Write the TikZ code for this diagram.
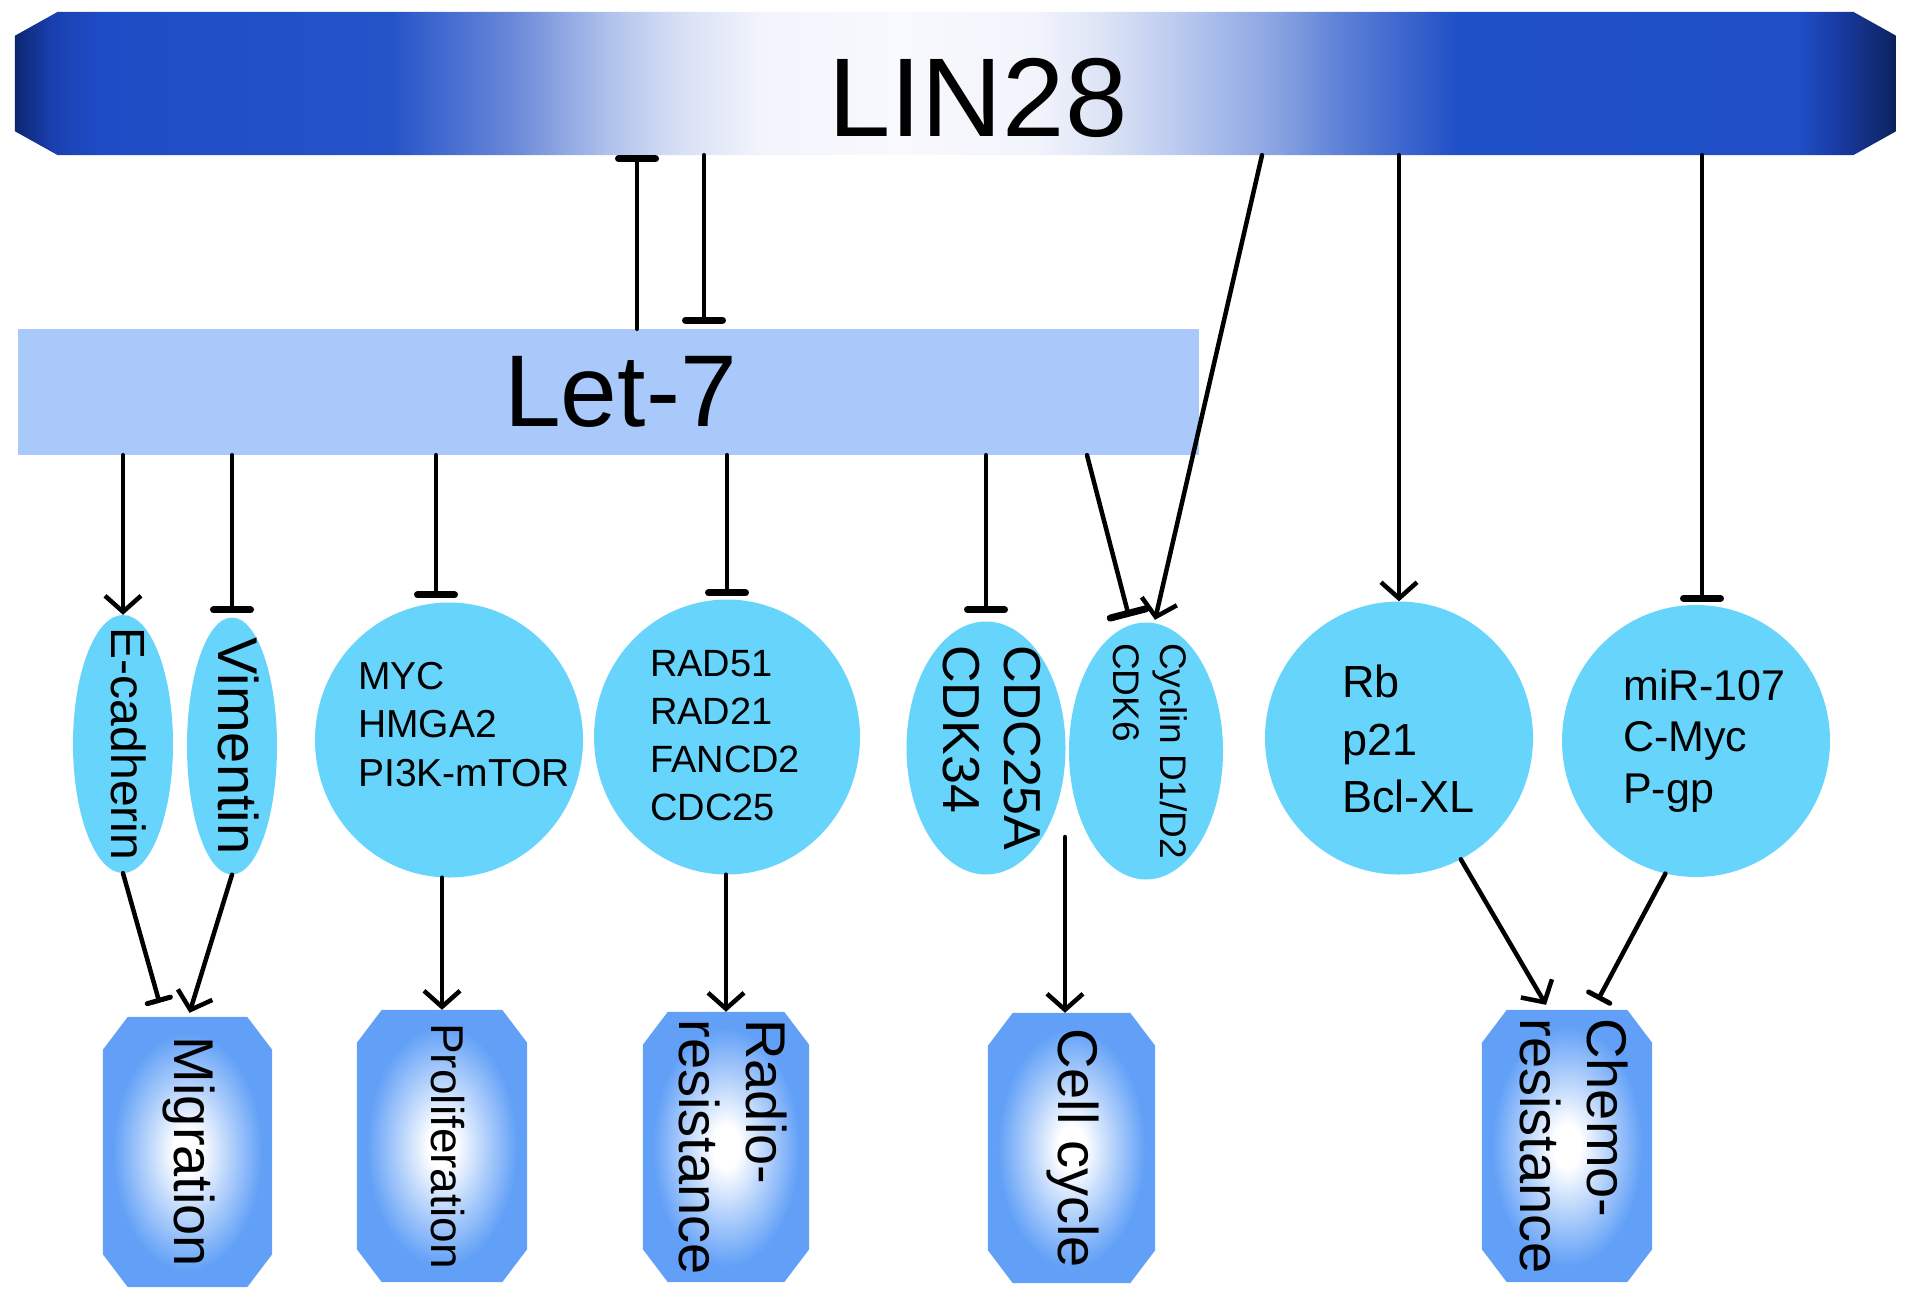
\documentclass[tikz,border=0pt]{standalone}
\usepackage{fontspec}
\setmainfont{Liberation Sans}
\usetikzlibrary{arrows.meta,shapes.geometric,backgrounds}

% colours of the LIN28 bar, left to right
\definecolor{linA}{HTML}{0B2670}
\definecolor{linB}{HTML}{1A40B0}
\definecolor{linC}{HTML}{1D4CC6}
\definecolor{linD}{HTML}{2553C8}
\definecolor{linE}{HTML}{6A88D8}
\definecolor{linF}{HTML}{B0C2EC}
\definecolor{linG}{HTML}{D8E0F5}
\definecolor{linH}{HTML}{F2F4FC}
\definecolor{linI}{HTML}{F8F9FE}
\definecolor{linJ}{HTML}{E0E6F6}
\definecolor{linK}{HTML}{C0CEF0}
\definecolor{linL}{HTML}{8AA4E2}
\definecolor{linM}{HTML}{6084D8}
\definecolor{linN}{HTML}{3A62CC}
\definecolor{linO}{HTML}{2050C8}
\definecolor{linP}{HTML}{1F4EC6}
\definecolor{linQ}{HTML}{1A3DA8}
\definecolor{linR}{HTML}{0E2668}
\definecolor{linS}{HTML}{0A1E55}
% other fills
\definecolor{letblue}{HTML}{A8C9FA}
\definecolor{cellcyan}{HTML}{67D4FB}
\definecolor{boxblue}{HTML}{62A0F7}
\definecolor{boxpale}{HTML}{B8D4FB}

\pgfdeclarehorizontalshading{linbar}{100bp}{color(0bp)=(linA); color(25bp)=(linA);
  color(26bp)=(linB); color(27.3bp)=(linC); color(35bp)=(linD); color(38.2bp)=(linE);
  color(40.8bp)=(linF); color(42.7bp)=(linG); color(44.8bp)=(linH); color(48.5bp)=(linI);
  color(52.1bp)=(linH); color(53.7bp)=(linJ); color(55.6bp)=(linK); color(58.5bp)=(linL);
  color(60.1bp)=(linM); color(62.1bp)=(linN); color(63.3bp)=(linO); color(72.4bp)=(linP);
  color(73.3bp)=(linQ); color(74.8bp)=(linR); color(75bp)=(linS); color(100bp)=(linS)}
\pgfdeclareradialshading{boxglow}{\pgfpoint{0bp}{0bp}}{color(0bp)=(white); color(4bp)=(white);
  color(12bp)=(boxpale); color(22bp)=(boxblue); color(50bp)=(boxblue)}

\newcommand{\vlabel}[1]{\rotatebox{-90}{\begin{tabular}{@{}l@{}}#1\end{tabular}}}
% node, x cut, y cut, shading
\newcommand{\chamferfill}[4]{%
  \shade[shading=#4] ([xshift=#2]#1.north west) -- ([xshift=-#2]#1.north east)
    -- ([yshift=-#3]#1.north east) -- ([yshift=#3]#1.south east)
    -- ([xshift=-#2]#1.south east) -- ([xshift=#2]#1.south west)
    -- ([yshift=#3]#1.south west) -- ([yshift=-#3]#1.north west) -- cycle;}

\tikzset{
  gene/.style={ellipse, fill=cellcyan, inner sep=0pt},
  genetext/.style={anchor=north west, align=left, inner sep=0pt},
  outcome/.style={rectangle, inner sep=0pt, font=\fontsize{56}{67}\selectfont},
  act/.style={line width=4.5pt, -{Straight Barb[length=16pt,width=36pt,line width=4.5pt]}},
  inh/.style={line width=4.5pt, -{Bar[width=37pt,line width=7pt,round]}},
  inhsmall/.style={line width=4.5pt, -{Bar[width=24pt,line width=5pt,round]}},
}

\begin{document}
\begin{tikzpicture}[x=1pt, y=-1pt, line cap=round, line join=round]
\useasboundingbox (0,0) rectangle (1913,1300);

% the two bars
\node[minimum width=1881pt, minimum height=143pt, inner sep=0pt] (lin28) at (955.5,83.5) {};
\node[anchor=base, inner sep=0pt, font=\fontsize{112}{134}\selectfont] (lin28-txt) at (978,137) {LIN28};
\node[fill=letblue, minimum width=1181pt, minimum height=126pt, inner sep=0pt,
  font=\fontsize{102}{122}\selectfont] (let7) at (608.5,392) {\hspace*{24pt}Let-7};

% targets
\node[gene, minimum width=100pt, minimum height=258pt,
  label={[font=\fontsize{48}{58}\selectfont]center:\vlabel{E-cadherin}}] (ecad) at (123,744) {};
\node[gene, minimum width=90pt, minimum height=257pt,
  label={[font=\fontsize{56}{67}\selectfont]center:\vlabel{Vimentin}}] (vim) at (232,746) {};
\node[gene, minimum width=268pt, minimum height=275pt] (myc) at (449,740) {};
\node[genetext, font=\fontsize{39}{48.5}\selectfont] (myc-txt) at (358,662) {MYC\\HMGA2\\PI3K-mTOR};
\node[gene, minimum width=266pt, minimum height=275pt] (rad) at (727,737) {};
\node[genetext, font=\fontsize{38}{48}\selectfont] (rad-txt) at (650,650) {RAD51\\RAD21\\FANCD2\\CDC25};
\node[gene, minimum width=159pt, minimum height=253pt,
  label={[font=\fontsize{52}{61}\selectfont]center:\vlabel{CDC25A\\CDK34}}] (cdc) at (986,748) {};
\node[gene, minimum width=154pt, minimum height=257pt,
  label={[font=\fontsize{37}{47}\selectfont]center:\vlabel{Cyclin D1/D2\\CDK6}}] (cyc) at (1146,751) {};
\node[gene, minimum width=268pt, minimum height=273pt] (rb) at (1399,738) {};
\node[genetext, font=\fontsize{45}{57.5}\selectfont] (rb-txt) at (1342,665) {Rb\\p21\\Bcl-XL};
\node[gene, minimum width=268pt, minimum height=272pt] (mir) at (1696,741) {};
\node[genetext, font=\fontsize{43}{51.5}\selectfont] (mir-txt) at (1623,669) {miR-107\\C-Myc\\P-gp};

% outcomes
\node[outcome, minimum width=169pt, minimum height=270pt] (mig) at (187.5,1152) {\vlabel{Migration}};
\node[outcome, minimum width=170pt, minimum height=272pt, font=\fontsize{46}{55}\selectfont] (pro) at (442,1146) {\vlabel{Proliferation}};
\node[outcome, minimum width=166pt, minimum height=270pt] (radio) at (726,1147) {\vlabel{Radio-\\resistance}};
\node[outcome, minimum width=167pt, minimum height=270pt] (cell) at (1071.5,1148) {\vlabel{Cell cycle}};
\node[outcome, minimum width=170pt, minimum height=272pt] (chemo) at (1567,1146) {\vlabel{Chemo-\\resistance}};

% shaded, cut-corner fills behind the bar and the outcomes
\begin{scope}[on background layer]
  \chamferfill{lin28}{43pt}{24pt}{linbar}
  \foreach \b in {mig,pro,radio,cell,chemo} {\chamferfill{\b}{25pt}{33pt}{boxglow}}
\end{scope}

% LIN28 and Let-7
\draw[inh] (let7.north -| 637,0) -- (lin28.south -| 637,0);
\draw[inh, shorten >=5pt] (lin28.south -| 704,0) -- (let7.north -| 704,0);

% LIN28 onto its targets
\draw[act] (lin28.south -| 1262,0) -- ([xshift=9pt,yshift=2.5pt]cyc.north);
\draw[act] (lin28.south -| rb.north) -- (rb.north);
\draw[inh, shorten >=3pt] (lin28.south -| 1702,0) -- (mir.north -| 1702,0);

% Let-7 onto its targets
\draw[act] (let7.south -| ecad.north) -- (ecad.north);
\draw[inh, shorten >=4pt] (let7.south -| vim.north) -- (vim.north);
\draw[inh, shorten >=4pt] (let7.south -| 436,0) -- (myc.north -| 436,0);
\draw[inh, shorten >=3pt] (let7.south -| rad.north) -- (rad.north);
\draw[inh, shorten >=8pt] (let7.south -| cdc.north) -- (cdc.north);
\draw[inh] (let7.south -| 1087,0) -- ([xshift=-17pt,yshift=5.5pt]cyc.north);

% targets onto outcomes
\draw[inhsmall] (ecad.south) -- ([xshift=-28pt,yshift=14pt]mig.north);
\draw[act] (vim.south) -- ([xshift=2pt,yshift=4pt]mig.north);
\draw[act] (myc.south -| pro.north) -- (pro.north);
\draw[act] (rad.south -| radio.north) -- (radio.north);
\coordinate (cdk) at (1065,837);
\draw[act] (cdk) -- (cdk |- cell.north);
\draw[act] (rb.-63) -- ([xshift=-21pt,yshift=5pt]chemo.north);
\draw[inhsmall] (mir.-103) -- ([xshift=31pt,yshift=10pt]chemo.north);

\end{tikzpicture}
\end{document}
